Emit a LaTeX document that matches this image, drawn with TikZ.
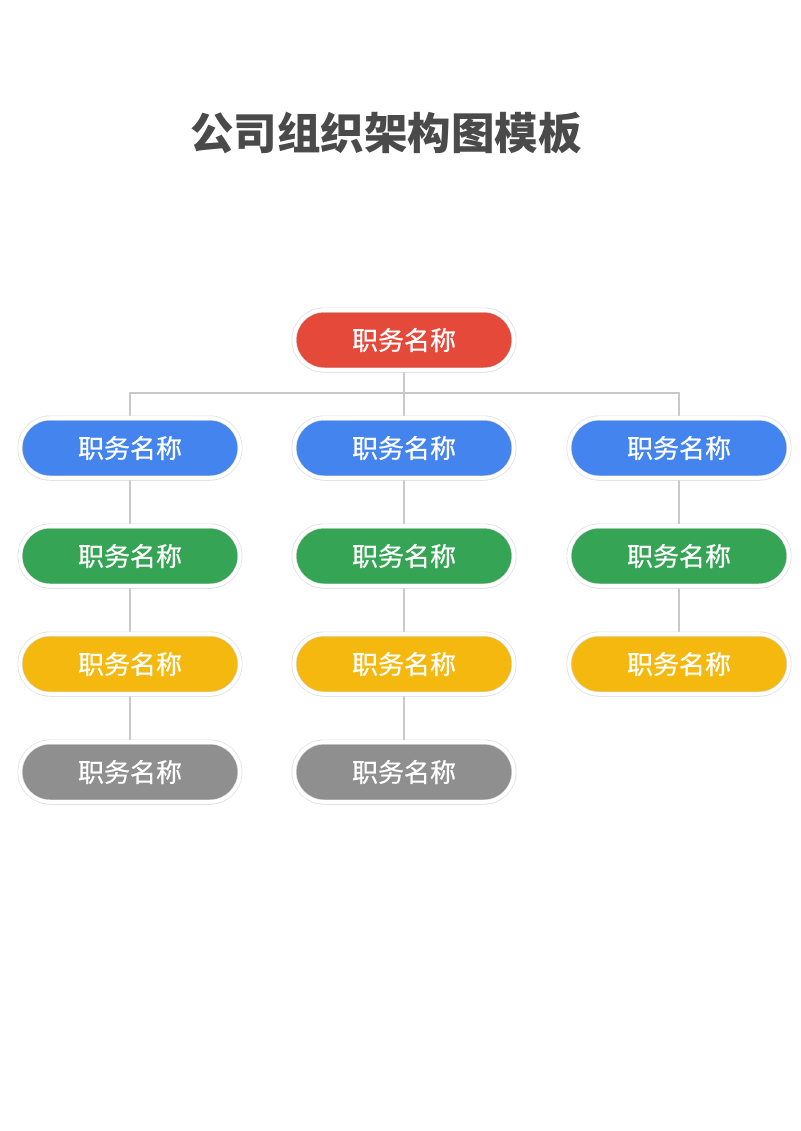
\documentclass[tikz,border=0pt]{standalone}
\usepackage{fontspec}
\newfontfamily\cjk{Noto Sans CJK SC}
\newfontfamily\cjkmid[FakeBold=0.6]{Noto Sans CJK SC}
\usetikzlibrary{shadows,backgrounds}
\definecolor{jobred}{HTML}{E5493A}
\definecolor{jobblue}{HTML}{4484EE}
\definecolor{jobgreen}{HTML}{35A454}
\definecolor{jobyellow}{HTML}{F4B80F}
\definecolor{jobgray}{HTML}{8F8F8F}
\definecolor{titlegray}{HTML}{4A4A4A}
\definecolor{linkgray}{HTML}{C9C9C9}

\begin{document}
\begin{tikzpicture}[x=1pt, y=-1pt,
  job/.style={rectangle, rounded corners=30pt, minimum width=220pt, minimum height=60pt,
    draw=black!13, line width=0.7pt, double=white, double distance=3.6pt,
    text=white, font=\cjkmid\fontsize{26}{30}\selectfont,
    drop shadow={shadow xshift=0pt, shadow yshift=-2.5pt, opacity=0.12, fill=black}},
  link/.style={draw=linkgray, line width=1.5pt}]
  \useasboundingbox (0,0) rectangle (800,1131);

  \node[text=titlegray, font=\cjk\bfseries\fontsize{43.5}{50}\selectfont] (head) at (386,133) {公司组织架构图模板};

  \node[job, fill=jobred]    (boss) at (404,340) {职务名称};
  % second row
  \node[job, fill=jobblue]   (b1) at (130,448) {职务名称};
  \node[job, fill=jobblue]   (b2) at (404,448) {职务名称};
  \node[job, fill=jobblue]   (b3) at (679,448) {职务名称};
  % third row
  \node[job, fill=jobgreen]  (g1) at (130,556) {职务名称};
  \node[job, fill=jobgreen]  (g2) at (404,556) {职务名称};
  \node[job, fill=jobgreen]  (g3) at (679,556) {职务名称};
  % fourth row
  \node[job, fill=jobyellow] (y1) at (130,664) {职务名称};
  \node[job, fill=jobyellow] (y2) at (404,664) {职务名称};
  \node[job, fill=jobyellow] (y3) at (679,664) {职务名称};
  % last row
  \node[job, fill=jobgray]   (d1) at (130,772) {职务名称};
  \node[job, fill=jobgray]   (d2) at (404,772) {职务名称};

  \begin{pgfonlayer}{background}
    \coordinate (bar) at (404,393);
    \draw[link] (boss) -- (bar);
    \draw[link] (b1) |- (bar) -| (b3);
    \draw[link] (bar) -- (b2);
    \draw[link] (b1) -- (g1) -- (y1) -- (d1);
    \draw[link] (b2) -- (g2) -- (y2) -- (d2);
    \draw[link] (b3) -- (g3) -- (y3);
  \end{pgfonlayer}
\end{tikzpicture}
\end{document}
